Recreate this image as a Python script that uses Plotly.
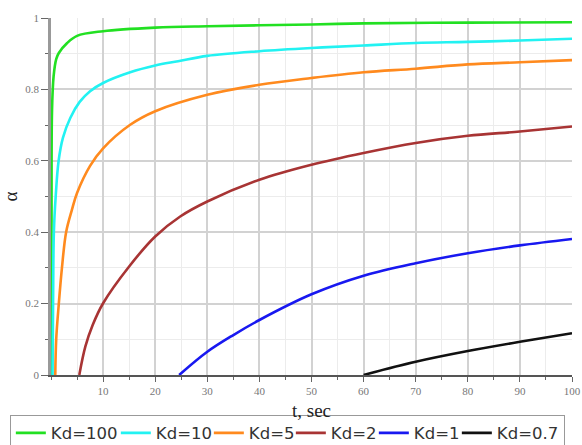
import plotly.graph_objects as go

# Degree of saturation alpha vs time for several distribution coefficients Kd
t_kd100 = [0.05, 0.1, 0.2, 0.5, 1.0, 1.5, 3.1, 5, 10, 20, 30, 50, 60, 80, 100]
a_kd100 = [0.0, 0.45, 0.743, 0.837, 0.885, 0.902, 0.930, 0.950, 0.963, 0.973, 0.977, 0.982, 0.985, 0.987, 0.988]

t_kd10 = [0.3, 0.4, 0.55, 0.9, 1.46, 2.3, 3.7, 5.5, 7.5, 10, 15.2, 20, 24.4, 30, 40, 50, 60, 70, 80, 90, 100]
a_kd10 = [0.0, 0.20, 0.40, 0.50, 0.600, 0.665, 0.720, 0.765, 0.795, 0.818, 0.848, 0.867, 0.879, 0.894, 0.907, 0.916, 0.923, 0.930, 0.933, 0.937, 0.942]

t_kd5 = [0.82, 1.0, 1.5, 2.1, 2.9, 4.0, 5.0, 7.5, 10, 15.2, 20, 30, 40, 50, 60, 70, 80, 90, 100]
a_kd5 = [0.0, 0.10, 0.20, 0.30, 0.40, 0.462, 0.510, 0.586, 0.635, 0.701, 0.739, 0.785, 0.813, 0.832, 0.848, 0.858, 0.870, 0.876, 0.882]

t_kd2 = [5.43, 6.6, 8.0, 10, 15, 20, 24.8, 30, 40, 50, 60, 70, 80, 90, 100]
a_kd2 = [0.0, 0.08, 0.14, 0.201, 0.304, 0.388, 0.444, 0.486, 0.547, 0.589, 0.622, 0.650, 0.670, 0.682, 0.696]

t_kd1 = [24.6, 30, 35, 40, 50, 60, 70, 80, 90, 100]
a_kd1 = [0.0, 0.065, 0.112, 0.154, 0.226, 0.278, 0.313, 0.341, 0.363, 0.381]

t_kd07 = [60, 70, 80, 90, 100]
a_kd07 = [0.0, 0.037, 0.067, 0.093, 0.117]

series = [
    ("Kd=100", t_kd100, a_kd100, "#22e022", 60),
    ("Kd=10", t_kd10, a_kd10, "#22f2f2", 48),
    ("Kd=5", t_kd5, a_kd5, "#ff8a1e", 37),
    ("Kd=2", t_kd2, a_kd2, "#a83434", 38),
    ("Kd=1", t_kd1, a_kd1, "#1818f0", 38),
    ("Kd=0.7", t_kd07, a_kd07, "#111111", 62),
]

fig = go.Figure()
for name, t, a, color, lw in series:
    fig.add_trace(go.Scatter(
        x=t, y=a, name=name, mode="lines", legendwidth=lw,
        line=dict(color=color, width=2.6, shape="spline", smoothing=1.0),
    ))

tick_font = dict(family="Liberation Serif, serif", size=11, color="#777777")

fig.update_layout(
    width=582, height=445,
    margin=dict(l=51, r=10, t=18, b=70, autoexpand=False),
    paper_bgcolor="white", plot_bgcolor="white",
    showlegend=True,
    legend=dict(
        orientation="h", x=-0.079, y=-0.111, xanchor="left", yanchor="top",
        font=dict(family="DejaVu Sans, sans-serif", size=16.5, color="#333333"),
        bordercolor="#999999", borderwidth=1,
        itemwidth=30, tracegroupgap=0,
    ),
    xaxis=dict(
        range=[0, 100], tickvals=[10, 20, 30, 40, 50, 60, 70, 80, 90, 100],
        showgrid=True, gridcolor="#d2d2d2", gridwidth=1.5,
        minor=dict(dtick=5, showgrid=True, gridcolor="#ececec", gridwidth=1,
                   ticks="outside", ticklen=3, tickcolor="#666666"),
        showline=True, linecolor="#555555", linewidth=1.5,
        ticks="outside", ticklen=5, tickcolor="#666666",
        tickfont=tick_font, zeroline=False,
        title=dict(text="t, sec", font=dict(family="Liberation Serif, serif", size=19, color="#222222"),
                   standoff=8),
    ),
    yaxis=dict(
        range=[0, 1], tickvals=[0, 0.2, 0.4, 0.6, 0.8, 1], ticktext=["0", "0.2", "0.4", "0.6", "0.8", "1"],
        showgrid=True, gridcolor="#d2d2d2", gridwidth=1.5,
        minor=dict(dtick=0.1, showgrid=True, gridcolor="#ececec", gridwidth=1,
                   ticks="outside", ticklen=3, tickcolor="#666666"),
        showline=True, linecolor="#999999", linewidth=2.5,
        ticks="outside", ticklen=7, tickcolor="#666666",
        tickfont=tick_font, zeroline=False,
        title=dict(text="α", font=dict(family="Liberation Serif, serif", size=19, color="#222222"),
                   standoff=10),
    ),
)

fig.write_html("out.html")
